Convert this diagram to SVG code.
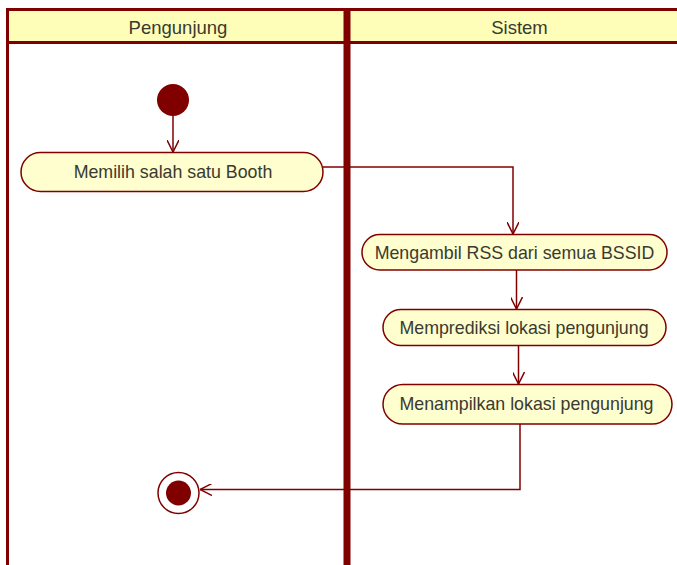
<svg xmlns="http://www.w3.org/2000/svg" width="677" height="565" viewBox="0 0 677 565">
  <style>
    .lane { fill: none; stroke: #800000; }
    .head { fill: #FEFEB8; stroke: #800000; stroke-width: 3; }
    .act { fill: #FEFECE; stroke: #800000; stroke-width: 1.5; }
    .label { font-family: "Liberation Sans", Arial, sans-serif; font-size: 17.8px; fill: #3a3a30; text-anchor: middle; }
    .flow { fill: none; stroke: #800000; stroke-width: 1.5; }
  </style>
  <defs>
    <marker id="arrow" viewBox="0 0 12 12" refX="12" refY="6" markerWidth="12" markerHeight="12" markerUnits="userSpaceOnUse" orient="auto">
      <path d="M0,0 L12,6 L0,12" fill="none" stroke="#800000" stroke-width="1.5"/>
    </marker>
  </defs>
  <rect width="677" height="565" fill="#ffffff"/>

  <!-- swimlanes -->
  <g id="lane-pengunjung">
    <rect class="head" x="7.5" y="9.5" width="339.5" height="33"/>
    <line class="lane" x1="7.5" y1="9" x2="7.5" y2="565" stroke-width="3"/>
    <text class="label" x="178" y="34" style="font-size:18.5px">Pengunjung</text>
  </g>
  <g id="lane-sistem">
    <rect class="head" x="347" y="9.5" width="345" height="33"/>
    <text class="label" x="519.5" y="34" style="font-size:18.5px">Sistem</text>
  </g>
  <line class="lane" x1="347" y1="9" x2="347" y2="565" stroke-width="7"/>

  <!-- connectors -->
  <g id="connectors">
    <path class="flow" d="M173,116 L173,152" marker-end="url(#arrow)"/>
    <path class="flow" d="M323,167 L513,167 L513,234" marker-end="url(#arrow)"/>
    <path class="flow" d="M516.5,270 L516.5,309" marker-end="url(#arrow)"/>
    <path class="flow" d="M518.5,345.5 L518.5,384" marker-end="url(#arrow)"/>
    <path class="flow" d="M520,424 L520,489.5 L200,489.5" marker-end="url(#arrow)"/>
  </g>

  <!-- nodes -->
  <g id="start">
    <circle cx="173" cy="100" r="16" fill="#800000"/>
  </g>
  <g id="memilih-booth">
    <rect class="act" x="21" y="152.5" width="302" height="39" rx="19.5"/>
    <text class="label" x="173" y="178">Memilih salah satu Booth</text>
  </g>
  <g id="mengambil-rss">
    <rect class="act" x="362" y="234.5" width="305" height="35.5" rx="17.75"/>
    <text class="label" x="514.5" y="258.5">Mengambil RSS dari semua BSSID</text>
  </g>
  <g id="memprediksi-lokasi">
    <rect class="act" x="383" y="309.5" width="283" height="36" rx="18"/>
    <text class="label" x="524" y="333.5">Memprediksi lokasi pengunjung</text>
  </g>
  <g id="menampilkan-lokasi">
    <rect class="act" x="383" y="384.5" width="289" height="39.5" rx="19.75"/>
    <text class="label" x="526.5" y="410">Menampilkan lokasi pengunjung</text>
  </g>
  <g id="end">
    <circle cx="178.5" cy="493" r="20.5" fill="#ffffff" stroke="#800000" stroke-width="1.5"/>
    <circle cx="178.5" cy="493" r="12.5" fill="#800000"/>
  </g>
</svg>
